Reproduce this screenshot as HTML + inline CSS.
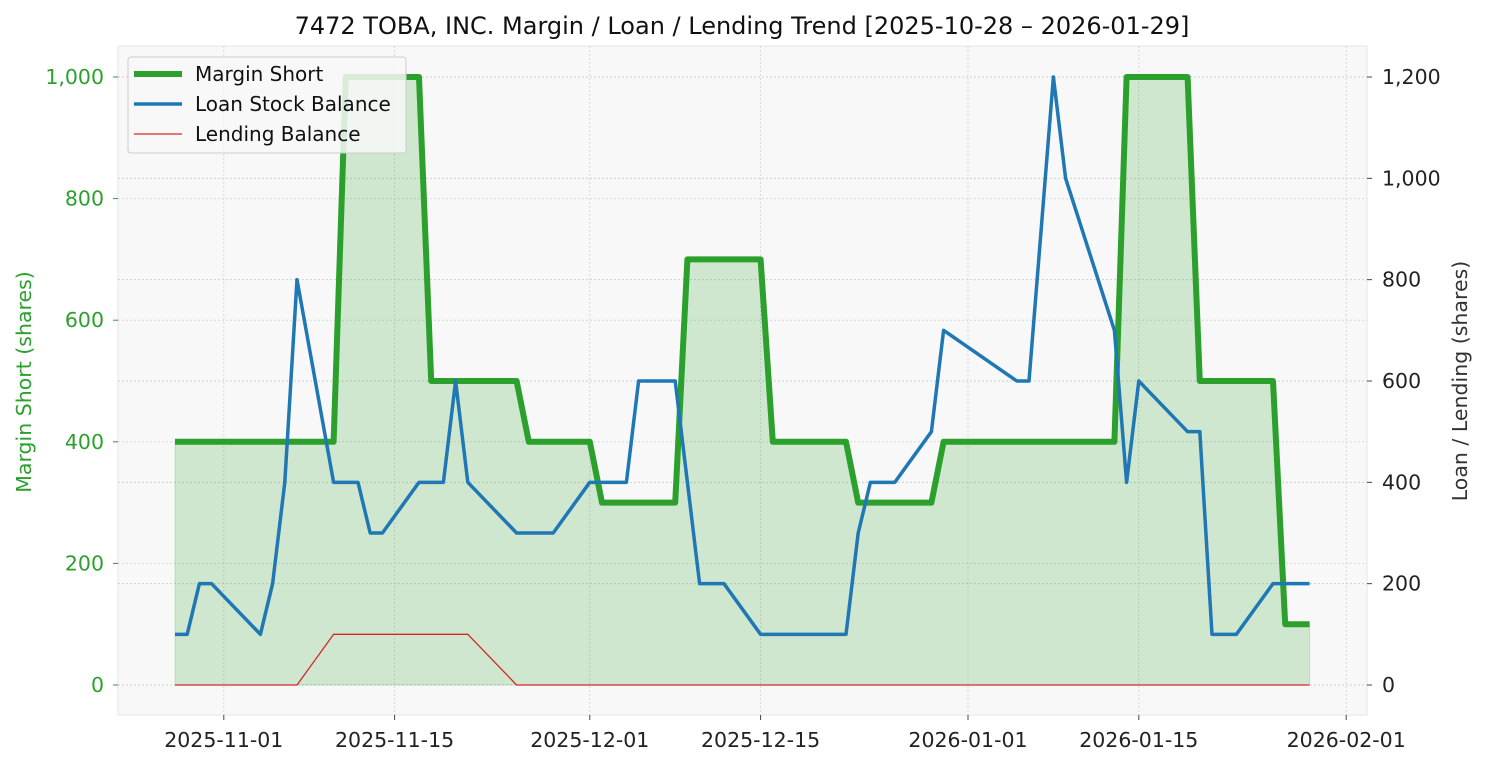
<!DOCTYPE html>
<html><head><meta charset="utf-8"><style>
html,body{margin:0;padding:0;background:#fff;}
svg{display:block;font-family:"DejaVu Sans","Liberation Sans",sans-serif;}
</style></head><body>
<svg id="chart" width="1485" height="765" xmlns="http://www.w3.org/2000/svg">
<text x="742" y="34" text-anchor="middle" font-size="24" fill="#111">7472 TOBA, INC. Margin / Loan / Lending Trend [2025-10-28 – 2026-01-29]</text>
</svg>
<script>
const dates=["2025-10-28","2025-10-29","2025-10-30","2025-10-31","2025-11-04","2025-11-05","2025-11-06","2025-11-07","2025-11-10","2025-11-11","2025-11-12","2025-11-13","2025-11-14","2025-11-17","2025-11-18","2025-11-19","2025-11-20","2025-11-21","2025-11-25","2025-11-26","2025-11-27","2025-11-28","2025-12-01","2025-12-02","2025-12-03","2025-12-04","2025-12-05","2025-12-08","2025-12-09","2025-12-10","2025-12-11","2025-12-12","2025-12-15","2025-12-16","2025-12-17","2025-12-18","2025-12-19","2025-12-22","2025-12-23","2025-12-24","2025-12-25","2025-12-26","2025-12-29","2025-12-30","2026-01-05","2026-01-06","2026-01-07","2026-01-08","2026-01-09","2026-01-13","2026-01-14","2026-01-15","2026-01-16","2026-01-19","2026-01-20","2026-01-21","2026-01-22","2026-01-23","2026-01-26","2026-01-27","2026-01-28","2026-01-29"];
const marginShort=[400,400,400,400,400,400,400,400,400,1000,1000,1000,1000,1000,500,500,500,500,500,400,400,400,400,300,300,300,300,300,700,700,700,700,700,400,400,400,400,400,300,300,300,300,300,400,400,400,400,400,400,400,1000,1000,1000,1000,500,500,500,500,500,100,100,100];
const loanBalance=[100,100,200,200,100,200,400,800,400,400,400,300,300,400,400,400,600,400,300,300,300,300,400,400,400,400,600,600,400,200,200,200,100,100,100,100,100,100,300,400,400,400,500,700,600,600,900,1200,1000,700,400,600,575,500,500,100,100,100,200,200,200,200];
const lendingBalance=[0,0,0,0,0,0,0,0,100,100,100,100,100,100,100,100,100,100,0,0,0,0,0,0,0,0,0,0,0,0,0,0,0,0,0,0,0,0,0,0,0,0,0,0,0,0,0,0,0,0,0,0,0,0,0,0,0,0,0,0,0,0];
const leftTicks=[0,200,400,600,800,1000];
const rightTicks=[0,200,400,600,800,1000,1200];
const xTickLabels=["2025-11-01","2025-11-15","2025-12-01","2025-12-15","2026-01-01","2026-01-15","2026-02-01"];

const svg=document.getElementById('chart');
const NS="http://www.w3.org/2000/svg";
const L=118,R=1367,T=46,B=715;
const d0=Date.UTC(2025,9,28);
function dayOf(s){const p=s.split('-');return (Date.UTC(+p[0],+p[1]-1,+p[2])-d0)/86400000;}
const xs=d=>175+dayOf(d)*12.2;
const yl=v=>685-v*0.608;
const yr=v=>685-v*0.50667;
function mk(tag,attrs,parent){const e=document.createElementNS(NS,tag);for(const k in attrs)e.setAttribute(k,attrs[k]);(parent||svg).appendChild(e);return e;}

const bg=mk('rect',{x:L,y:T,width:R-L,height:B-T,fill:'#f8f8f8',stroke:'#e6e6e6'});



xTickLabels.forEach(t=>{
  const x=xs(t);
  const g=mk('line',{x1:x,x2:x,y1:T,y2:B,stroke:'#d8d8d8','stroke-dasharray':'2,2'});
  
  
  mk('line',{x1:x,x2:x,y1:B,y2:B+5,stroke:'#444'});
  const tx=mk('text',{x:x,y:B+32,'text-anchor':'middle','font-size':'20.5',fill:'#222'});
  tx.textContent=t;
  
  
});
leftTicks.forEach(v=>{
  const y=yl(v);
  const g=mk('line',{x1:L,x2:R,y1:y,y2:y,stroke:'#d8d8d8','stroke-dasharray':'2,2'});
  
  
  mk('line',{x1:L-5,x2:L,y1:y,y2:y,stroke:'#2ca02c'});
  const tx=mk('text',{x:L-14,y:y+7,'text-anchor':'end','font-size':'20.5',fill:'#2ca02c'});
  tx.textContent=v.toLocaleString('en-US');
  
  
});
rightTicks.forEach(v=>{
  const y=yr(v);
  const g=mk('line',{x1:L,x2:R,y1:y,y2:y,stroke:'#d0d0d0','stroke-dasharray':'2,2'});
  
  
  mk('line',{x1:R,x2:R+5,y1:y,y2:y,stroke:'#444'});
  const tx=mk('text',{x:R+15,y:y+7,'text-anchor':'start','font-size':'20.5',fill:'#222'});
  tx.textContent=v.toLocaleString('en-US');
  
  
});

const yt1=mk('text',{x:31,y:382,'text-anchor':'middle','font-size':'20.5',fill:'#2ca02c',transform:'rotate(-90 31 382)'});
yt1.textContent='Margin Short (shares)';


const yt2=mk('text',{x:1467,y:381,'text-anchor':'middle','font-size':'20.5',fill:'#333',transform:'rotate(-90 1467 381)'});
yt2.textContent='Loan / Lending (shares)';



const mpts=dates.map((d,i)=>xs(d)+','+yl(marginShort[i]));
const fill=mk('polygon',{points:xs(dates[0])+','+yl(0)+' '+mpts.join(' ')+' '+xs(dates[dates.length-1])+','+yl(0),fill:'#2ca02c','fill-opacity':'0.2',stroke:'#2ca02c','stroke-opacity':'0.2'});


const ml=mk('polyline',{points:mpts.join(' '),fill:'none',stroke:'#2ca02c','stroke-width':'6','stroke-linejoin':'round'});


const bl=mk('polyline',{points:dates.map((d,i)=>xs(d)+','+yr(loanBalance[i])).join(' '),fill:'none',stroke:'#1f77b4','stroke-width':'3.5','stroke-linejoin':'round'});


const rl=mk('polyline',{points:dates.map((d,i)=>xs(d)+','+yr(lendingBalance[i])).join(' '),fill:'none',stroke:'#d62728','stroke-width':'1.3'});



const lg=mk('g',{});


mk('rect',{x:128,y:57,width:278,height:96,rx:3,fill:'#f8f8f8','fill-opacity':'0.85',stroke:'#ccc'},lg);
const items=[['Margin Short','#2ca02c',6,74],['Loan Stock Balance','#1f77b4',3.5,104],['Lending Balance','#d62728',1.3,134]];
items.forEach(it=>{
  const e=mk('g',{},lg);
  
  
  mk('line',{x1:134,x2:182,y1:it[3],y2:it[3],stroke:it[1],'stroke-width':it[2]},e);
  const t=mk('text',{x:195,y:it[3]+7,'font-size':'20',fill:'#111'},e);
  t.textContent=it[0];
});
</script>
</body></html>
